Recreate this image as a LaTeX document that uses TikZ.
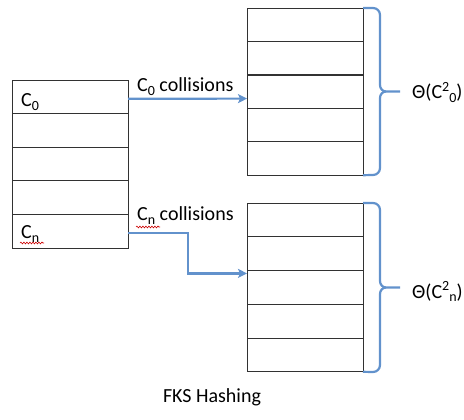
\documentclass[tikz,border=0pt]{standalone}
\usepackage{fontspec}
\setmainfont{Carlito}
\usetikzlibrary{arrows.meta,decorations.pathmorphing}
\definecolor{lineblue}{RGB}{98,146,204}
\definecolor{cellgray}{RGB}{50,50,50}
\newcommand{\lowdig}[1]{\raisebox{-4pt}{\fontsize{14}{14}\selectfont #1}}
\newcommand{\highdig}[1]{\raisebox{7pt}{\fontsize{14}{14}\selectfont #1}}
\tikzset{
  cell/.style={draw=cellgray, line width=0.9pt, minimum width=116pt, minimum height=33.6pt, inner sep=0pt, outer sep=0pt},
  arr/.style={draw=lineblue, line width=2.2pt, -{Stealth[length=9pt,width=9pt,inset=2pt]}},
  bracepath/.style={draw=lineblue, line width=2.2pt},
  lbl/.style={font=\fontsize{20}{24}\selectfont, inner sep=0pt, anchor=base west},
  squiggle/.style={draw=red!80!black, line width=0.6pt, decorate, decoration={snake, amplitude=0.9pt, segment length=3pt}}
}
\begin{document}
\begin{tikzpicture}[x=1pt,y=-1pt]
\useasboundingbox (0,0) rectangle (464,420);
% left table
\foreach \i in {0,...,4} {
  \node[cell, anchor=north west] (L\i) at (12, 80+33.6*\i) {};
}
% top right table
\foreach \i in {0,...,4} {
  \node[cell, anchor=north west] (T\i) at (247, 8+33.4*\i) {};
}
% bottom right table
\foreach \i in {0,...,4} {
  \node[cell, anchor=north west] (B\i) at (247, 203+33.8*\i) {};
}
% labels in left table
\node[lbl] (c0) at (21,107) {C\lowdig{0}};
\node[lbl] (cn) at (21,238) {C\lowdig{n}};
\draw[squiggle] (20,243) -- (44,243);
% arrows
\draw[arr] ([yshift=-2pt]L0.east) -- ([yshift=-7pt]T2.west);
\draw[arr] ([yshift=-2pt]L4.east) -- ++(60,0) |- ([yshift=14pt]B2.west);
\node[lbl] (col0) at (137,92) {C\lowdig{0} collisions};
\node[lbl] (coln) at (137,221) {C\lowdig{n} collisions};
\draw[squiggle] (136,227) -- (160,227);
% braces
\draw[bracepath] (T0.north east) -- (373,8) to[out=0,in=90] (380,15) -- (380,85) to[out=-90,in=180] (386,91.5) -- (400,91.5);
\draw[bracepath] (T4.south east) -- (373,175) to[out=0,in=-90] (380,168) -- (380,98) to[out=90,in=180] (386,91.5);
\draw[bracepath] (B0.north east) -- (373,203) to[out=0,in=90] (380,210) -- (380,281) to[out=-90,in=180] (386,287.5) -- (400,287.5);
\draw[bracepath] (B4.south east) -- (373,372) to[out=0,in=-90] (380,365) -- (380,294) to[out=90,in=180] (386,287.5);
\node[lbl] (th0) at (412,99) {Θ(C\highdig{2}\lowdig{0})};
\node[lbl] (thn) at (412,298) {Θ(C\highdig{2}\lowdig{n})};
% caption
\node[lbl, anchor=base] (cap) at (212,402) {FKS Hashing};
\end{tikzpicture}
\end{document}
